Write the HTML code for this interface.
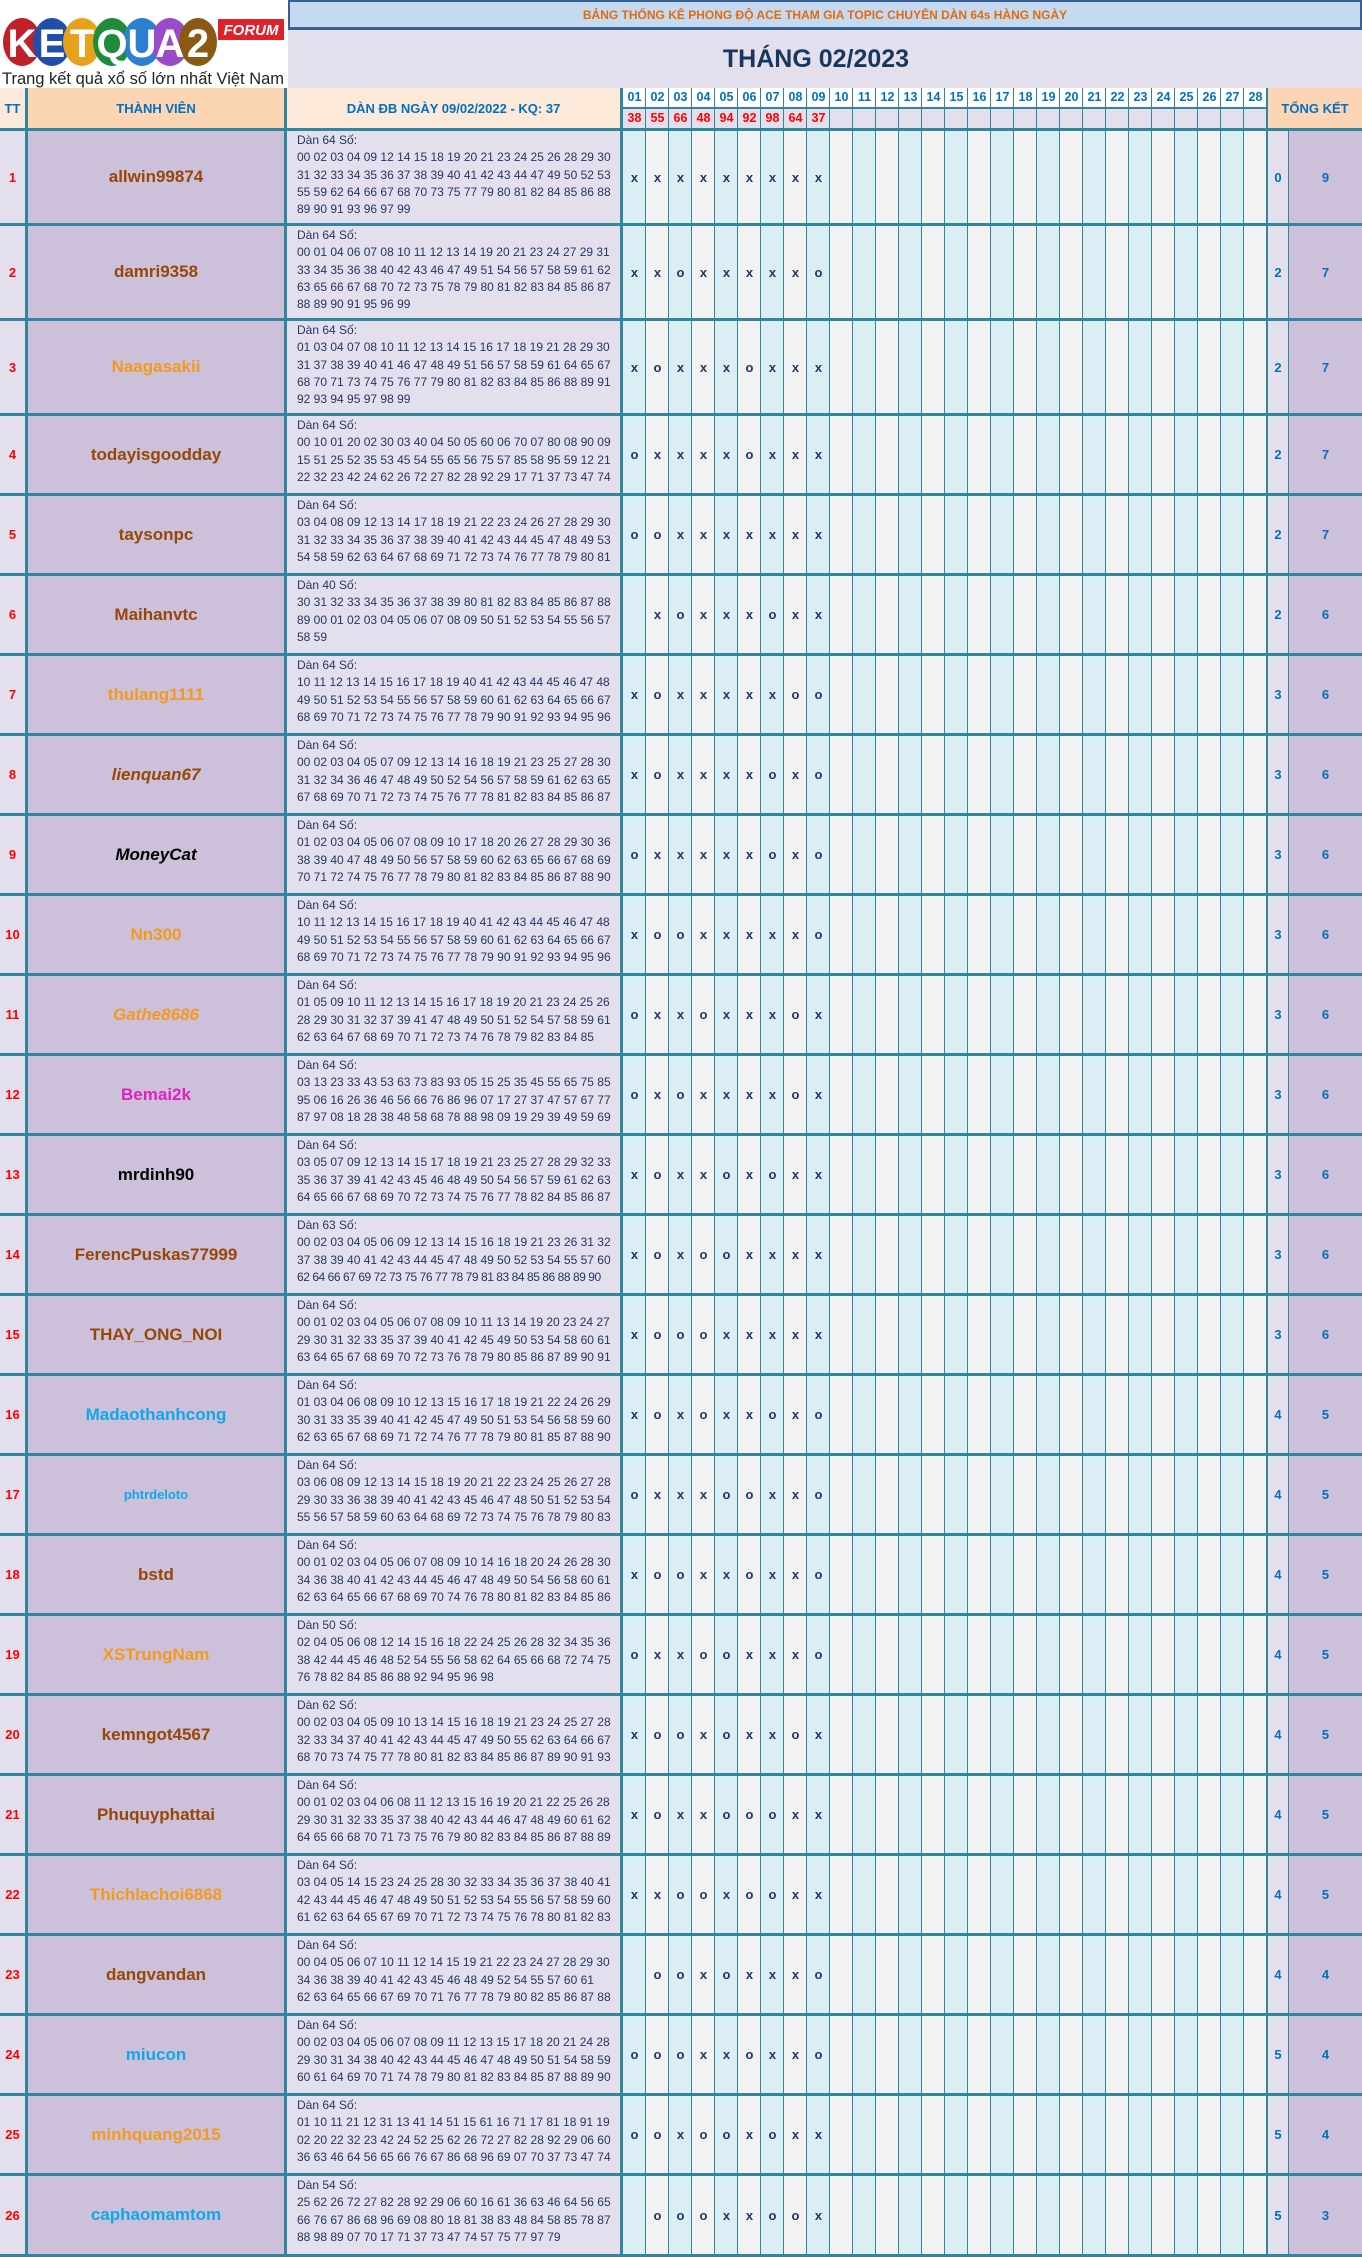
<!DOCTYPE html>
<html><head><meta charset="utf-8">
<style>
*{margin:0;padding:0;box-sizing:border-box}
body{width:1362px;height:2257px;background:#fff;font-family:"Liberation Sans","DejaVu Sans",sans-serif;position:relative;overflow:hidden}
.a{position:absolute}
#tbl{position:absolute;left:0;top:88px;width:1362px;height:2169px;background:#31859c}
.r{position:absolute;left:0;width:1362px}
.r>div{position:absolute;top:0;bottom:3px}
.tt{left:0;width:25px;background:#e4dfec;color:#f00;font-weight:bold;font-size:13px;display:flex;align-items:center;justify-content:center}
.nm{left:28px;width:256px;background:#ccc0da;font-weight:bold;font-size:17px;display:flex;align-items:center;justify-content:center;color:#974706}
.dn{left:287px;width:333px;background:#e4dfec;padding:1px 0 0 10px;font-size:12px;line-height:17.3px;color:#1f3864;white-space:pre;overflow:hidden}
.dy{left:623px;width:644px;background:repeating-linear-gradient(90deg,#daeef3 0 22px,#31859c 22px 23px,#f2f2f2 23px 45px,#31859c 45px 46px);display:flex;align-items:center}
.dy span{width:23px;text-align:center;font-weight:bold;font-size:13px;color:#1f3864}
.t1{left:1268px;width:20px;background:#e4dfec;color:#0070c0;font-weight:bold;font-size:13px;display:flex;align-items:center;justify-content:center}
.t2{left:1289px;width:73px;background:#ccc0da;color:#0070c0;font-weight:bold;font-size:13px;display:flex;align-items:center;justify-content:center}
.or{color:#f39a1e}.bl{color:#10a8e8}.it{font-style:italic}
.h{position:absolute;display:flex;align-items:center;justify-content:center;color:#0070c0;font-weight:bold;font-size:13px}
.dh{position:absolute;left:623px;width:644px;display:flex}
.dh span{width:23px;text-align:center;font-weight:bold;font-size:12.5px}
</style></head><body>
<svg class="a" style="left:0;top:0" width="288" height="88" viewBox="0 0 288 88">
<ellipse cx="22" cy="42" rx="19" ry="24" fill="#c0202a"/>
<ellipse cx="52" cy="42" rx="19" ry="24" fill="#1f4fa8"/>
<ellipse cx="82" cy="42" rx="19" ry="24" fill="#e6a21c"/>
<ellipse cx="112" cy="42" rx="19" ry="24" fill="#1e8c3a"/>
<ellipse cx="142" cy="42" rx="19" ry="24" fill="#2d7fd0"/>
<ellipse cx="170" cy="42" rx="19" ry="24" fill="#9b4bc9"/>
<ellipse cx="198" cy="42" rx="19" ry="24" fill="#8a5a14"/>
<g font-family="Liberation Sans" font-weight="bold" font-size="40" fill="#fff" text-anchor="middle">
<text x="22" y="57">K</text><text x="52" y="57">E</text><text x="82" y="57">T</text><text x="112" y="57">Q</text><text x="142" y="57">U</text><text x="170" y="57">A</text><text x="198" y="57">2</text></g>
<rect x="218" y="19" width="66" height="21" fill="#e0202a"/>
<text x="251" y="35" font-family="Liberation Sans" font-style="italic" font-weight="bold" font-size="15" fill="#fff" text-anchor="middle">FORUM</text>
<text x="2" y="84" font-family="Liberation Sans" font-size="17" fill="#222" textLength="282" lengthAdjust="spacingAndGlyphs">Trang kết quả xổ số lớn nhất Việt Nam</text>
</svg>
<div class="a" style="left:288px;top:0;width:1074px;height:30px;background:#c5d9f1;border:2px solid #366092;border-bottom:3px solid #366092;color:#e26b0a;font-weight:bold;font-size:12px;display:flex;align-items:center;justify-content:center">BẢNG THỐNG KÊ PHONG ĐỘ ACE THAM GIA TOPIC CHUYÊN DÀN 64s HÀNG NGÀY</div>
<div class="a" style="left:288px;top:30px;width:1074px;height:58px;background:#e4dfec;color:#17375e;font-weight:bold;font-size:25px;display:flex;align-items:center;justify-content:center;padding-right:18px">THÁNG 02/2023</div>
<div id="tbl">
<div class="h" style="left:0;top:0;width:25px;height:40px;background:#fde9d9">TT</div>
<div class="h" style="left:28px;top:0;width:256px;height:40px;background:#fcd5b4">THÀNH VIÊN</div>
<div class="h" style="left:287px;top:0;width:333px;height:40px;background:#fde9d9">DÀN ĐB NGÀY 09/02/2022 - KQ: 37</div>
<div class="dh" style="top:0;height:19px;background:repeating-linear-gradient(90deg,#fff 0 22px,#31859c 22px 23px);color:#0070c0;line-height:19px"><span>01</span><span>02</span><span>03</span><span>04</span><span>05</span><span>06</span><span>07</span><span>08</span><span>09</span><span>10</span><span>11</span><span>12</span><span>13</span><span>14</span><span>15</span><span>16</span><span>17</span><span>18</span><span>19</span><span>20</span><span>21</span><span>22</span><span>23</span><span>24</span><span>25</span><span>26</span><span>27</span><span>28</span></div>
<div class="dh" style="top:21px;height:19px;background:repeating-linear-gradient(90deg,#e4dfec 0 22px,#31859c 22px 23px);color:#f00;line-height:19px"><span>38</span><span>55</span><span>66</span><span>48</span><span>94</span><span>92</span><span>98</span><span>64</span><span>37</span></div>
<div class="h" style="left:1268px;top:0;width:94px;height:40px;background:#fcd5b4">TỔNG KẾT</div>

<div class="r" style="top:43px;height:95px"><div class="tt">1</div><div class="nm">allwin99874</div><div class="dn">Dàn 64 Số:
00 02 03 04 09 12 14 15 18 19 20 21 23 24 25 26 28 29 30
31 32 33 34 35 36 37 38 39 40 41 42 43 44 47 49 50 52 53
55 59 62 64 66 67 68 70 73 75 77 79 80 81 82 84 85 86 88
89 90 91 93 96 97 99</div><div class="dy"><span>x</span><span>x</span><span>x</span><span>x</span><span>x</span><span>x</span><span>x</span><span>x</span><span>x</span></div><div class="t1">0</div><div class="t2">9</div></div>

<div class="r" style="top:138px;height:95px"><div class="tt">2</div><div class="nm">damri9358</div><div class="dn">Dàn 64 Số:
00 01 04 06 07 08 10 11 12 13 14 19 20 21 23 24 27 29 31
33 34 35 36 38 40 42 43 46 47 49 51 54 56 57 58 59 61 62
63 65 66 67 68 70 72 73 75 78 79 80 81 82 83 84 85 86 87
88 89 90 91 95 96 99</div><div class="dy"><span>x</span><span>x</span><span>o</span><span>x</span><span>x</span><span>x</span><span>x</span><span>x</span><span>o</span></div><div class="t1">2</div><div class="t2">7</div></div>

<div class="r" style="top:233px;height:95px"><div class="tt">3</div><div class="nm or">Naagasakii</div><div class="dn">Dàn 64 Số:
01 03 04 07 08 10 11 12 13 14 15 16 17 18 19 21 28 29 30
31 37 38 39 40 41 46 47 48 49 51 56 57 58 59 61 64 65 67
68 70 71 73 74 75 76 77 79 80 81 82 83 84 85 86 88 89 91
92 93 94 95 97 98 99</div><div class="dy"><span>x</span><span>o</span><span>x</span><span>x</span><span>x</span><span>o</span><span>x</span><span>x</span><span>x</span></div><div class="t1">2</div><div class="t2">7</div></div>

<div class="r" style="top:328px;height:80px"><div class="tt">4</div><div class="nm">todayisgoodday</div><div class="dn">Dàn 64 Số:
00 10 01 20 02 30 03 40 04 50 05 60 06 70 07 80 08 90 09
15 51 25 52 35 53 45 54 55 65 56 75 57 85 58 95 59 12 21
22 32 23 42 24 62 26 72 27 82 28 92 29 17 71 37 73 47 74</div><div class="dy"><span>o</span><span>x</span><span>x</span><span>x</span><span>x</span><span>o</span><span>x</span><span>x</span><span>x</span></div><div class="t1">2</div><div class="t2">7</div></div>

<div class="r" style="top:408px;height:80px"><div class="tt">5</div><div class="nm">taysonpc</div><div class="dn">Dàn 64 Số:
03 04 08 09 12 13 14 17 18 19 21 22 23 24 26 27 28 29 30
31 32 33 34 35 36 37 38 39 40 41 42 43 44 45 47 48 49 53
54 58 59 62 63 64 67 68 69 71 72 73 74 76 77 78 79 80 81</div><div class="dy"><span>o</span><span>o</span><span>x</span><span>x</span><span>x</span><span>x</span><span>x</span><span>x</span><span>x</span></div><div class="t1">2</div><div class="t2">7</div></div>

<div class="r" style="top:488px;height:80px"><div class="tt">6</div><div class="nm">Maihanvtc</div><div class="dn">Dàn 40 Số:
30 31 32 33 34 35 36 37 38 39 80 81 82 83 84 85 86 87 88
89 00 01 02 03 04 05 06 07 08 09 50 51 52 53 54 55 56 57
58 59</div><div class="dy"><span></span><span>x</span><span>o</span><span>x</span><span>x</span><span>x</span><span>o</span><span>x</span><span>x</span></div><div class="t1">2</div><div class="t2">6</div></div>

<div class="r" style="top:568px;height:80px"><div class="tt">7</div><div class="nm or">thulang1111</div><div class="dn">Dàn 64 Số:
10 11 12 13 14 15 16 17 18 19 40 41 42 43 44 45 46 47 48
49 50 51 52 53 54 55 56 57 58 59 60 61 62 63 64 65 66 67
68 69 70 71 72 73 74 75 76 77 78 79 90 91 92 93 94 95 96</div><div class="dy"><span>x</span><span>o</span><span>x</span><span>x</span><span>x</span><span>x</span><span>x</span><span>o</span><span>o</span></div><div class="t1">3</div><div class="t2">6</div></div>

<div class="r" style="top:648px;height:80px"><div class="tt">8</div><div class="nm it">lienquan67</div><div class="dn">Dàn 64 Số:
00 02 03 04 05 07 09 12 13 14 16 18 19 21 23 25 27 28 30
31 32 34 36 46 47 48 49 50 52 54 56 57 58 59 61 62 63 65
67 68 69 70 71 72 73 74 75 76 77 78 81 82 83 84 85 86 87</div><div class="dy"><span>x</span><span>o</span><span>x</span><span>x</span><span>x</span><span>x</span><span>o</span><span>x</span><span>o</span></div><div class="t1">3</div><div class="t2">6</div></div>

<div class="r" style="top:728px;height:80px"><div class="tt">9</div><div class="nm it" style="color:#000">MoneyCat</div><div class="dn">Dàn 64 Số:
01 02 03 04 05 06 07 08 09 10 17 18 20 26 27 28 29 30 36
38 39 40 47 48 49 50 56 57 58 59 60 62 63 65 66 67 68 69
70 71 72 74 75 76 77 78 79 80 81 82 83 84 85 86 87 88 90</div><div class="dy"><span>o</span><span>x</span><span>x</span><span>x</span><span>x</span><span>x</span><span>o</span><span>x</span><span>o</span></div><div class="t1">3</div><div class="t2">6</div></div>

<div class="r" style="top:808px;height:80px"><div class="tt">10</div><div class="nm or">Nn300</div><div class="dn">Dàn 64 Số:
10 11 12 13 14 15 16 17 18 19 40 41 42 43 44 45 46 47 48
49 50 51 52 53 54 55 56 57 58 59 60 61 62 63 64 65 66 67
68 69 70 71 72 73 74 75 76 77 78 79 90 91 92 93 94 95 96</div><div class="dy"><span>x</span><span>o</span><span>o</span><span>x</span><span>x</span><span>x</span><span>x</span><span>x</span><span>o</span></div><div class="t1">3</div><div class="t2">6</div></div>

<div class="r" style="top:888px;height:80px"><div class="tt">11</div><div class="nm or it">Gathe8686</div><div class="dn">Dàn 64 Số:
01 05 09 10 11 12 13 14 15 16 17 18 19 20 21 23 24 25 26
28 29 30 31 32 37 39 41 47 48 49 50 51 52 54 57 58 59 61
62 63 64 67 68 69 70 71 72 73 74 76 78 79 82 83 84 85</div><div class="dy"><span>o</span><span>x</span><span>x</span><span>o</span><span>x</span><span>x</span><span>x</span><span>o</span><span>x</span></div><div class="t1">3</div><div class="t2">6</div></div>

<div class="r" style="top:968px;height:80px"><div class="tt">12</div><div class="nm" style="color:#e020c0">Bemai2k</div><div class="dn">Dàn 64 Số:
03 13 23 33 43 53 63 73 83 93 05 15 25 35 45 55 65 75 85
95 06 16 26 36 46 56 66 76 86 96 07 17 27 37 47 57 67 77
87 97 08 18 28 38 48 58 68 78 88 98 09 19 29 39 49 59 69</div><div class="dy"><span>o</span><span>x</span><span>o</span><span>x</span><span>x</span><span>x</span><span>x</span><span>o</span><span>x</span></div><div class="t1">3</div><div class="t2">6</div></div>

<div class="r" style="top:1048px;height:80px"><div class="tt">13</div><div class="nm" style="color:#000">mrdinh90</div><div class="dn">Dàn 64 Số:
03 05 07 09 12 13 14 15 17 18 19 21 23 25 27 28 29 32 33
35 36 37 39 41 42 43 45 46 48 49 50 54 56 57 59 61 62 63
64 65 66 67 68 69 70 72 73 74 75 76 77 78 82 84 85 86 87</div><div class="dy"><span>x</span><span>o</span><span>x</span><span>x</span><span>o</span><span>x</span><span>o</span><span>x</span><span>x</span></div><div class="t1">3</div><div class="t2">6</div></div>

<div class="r" style="top:1128px;height:80px"><div class="tt">14</div><div class="nm">FerencPuskas77999</div><div class="dn">Dàn 63 Số:
00 02 03 04 05 06 09 12 13 14 15 16 18 19 21 23 26 31 32
37 38 39 40 41 42 43 44 45 47 48 49 50 52 53 54 55 57 60
<span style="letter-spacing:-0.45px">62 64 66 67 69 72 73 75 76 77 78 79 81 83 84 85 86 88 89 90</span></div><div class="dy"><span>x</span><span>o</span><span>x</span><span>o</span><span>o</span><span>x</span><span>x</span><span>x</span><span>x</span></div><div class="t1">3</div><div class="t2">6</div></div>

<div class="r" style="top:1208px;height:80px"><div class="tt">15</div><div class="nm">THAY_ONG_NOI</div><div class="dn">Dàn 64 Số:
00 01 02 03 04 05 06 07 08 09 10 11 13 14 19 20 23 24 27
29 30 31 32 33 35 37 39 40 41 42 45 49 50 53 54 58 60 61
63 64 65 67 68 69 70 72 73 76 78 79 80 85 86 87 89 90 91</div><div class="dy"><span>x</span><span>o</span><span>o</span><span>o</span><span>x</span><span>x</span><span>x</span><span>x</span><span>x</span></div><div class="t1">3</div><div class="t2">6</div></div>

<div class="r" style="top:1288px;height:80px"><div class="tt">16</div><div class="nm bl">Madaothanhcong</div><div class="dn">Dàn 64 Số:
01 03 04 06 08 09 10 12 13 15 16 17 18 19 21 22 24 26 29
30 31 33 35 39 40 41 42 45 47 49 50 51 53 54 56 58 59 60
62 63 65 67 68 69 71 72 74 76 77 78 79 80 81 85 87 88 90</div><div class="dy"><span>x</span><span>o</span><span>x</span><span>o</span><span>x</span><span>x</span><span>o</span><span>x</span><span>o</span></div><div class="t1">4</div><div class="t2">5</div></div>

<div class="r" style="top:1368px;height:80px"><div class="tt">17</div><div class="nm bl" style="font-size:13px">phtrdeloto</div><div class="dn">Dàn 64 Số:
03 06 08 09 12 13 14 15 18 19 20 21 22 23 24 25 26 27 28
29 30 33 36 38 39 40 41 42 43 45 46 47 48 50 51 52 53 54
55 56 57 58 59 60 63 64 68 69 72 73 74 75 76 78 79 80 83</div><div class="dy"><span>o</span><span>x</span><span>x</span><span>x</span><span>o</span><span>o</span><span>x</span><span>x</span><span>o</span></div><div class="t1">4</div><div class="t2">5</div></div>

<div class="r" style="top:1448px;height:80px"><div class="tt">18</div><div class="nm">bstd</div><div class="dn">Dàn 64 Số:
00 01 02 03 04 05 06 07 08 09 10 14 16 18 20 24 26 28 30
34 36 38 40 41 42 43 44 45 46 47 48 49 50 54 56 58 60 61
62 63 64 65 66 67 68 69 70 74 76 78 80 81 82 83 84 85 86</div><div class="dy"><span>x</span><span>o</span><span>o</span><span>x</span><span>x</span><span>o</span><span>x</span><span>x</span><span>o</span></div><div class="t1">4</div><div class="t2">5</div></div>

<div class="r" style="top:1528px;height:80px"><div class="tt">19</div><div class="nm or">XSTrungNam</div><div class="dn">Dàn 50 Số:
02 04 05 06 08 12 14 15 16 18 22 24 25 26 28 32 34 35 36
38 42 44 45 46 48 52 54 55 56 58 62 64 65 66 68 72 74 75
76 78 82 84 85 86 88 92 94 95 96 98</div><div class="dy"><span>o</span><span>x</span><span>x</span><span>o</span><span>o</span><span>x</span><span>x</span><span>x</span><span>o</span></div><div class="t1">4</div><div class="t2">5</div></div>

<div class="r" style="top:1608px;height:80px"><div class="tt">20</div><div class="nm">kemngot4567</div><div class="dn">Dàn 62 Số:
00 02 03 04 05 09 10 13 14 15 16 18 19 21 23 24 25 27 28
32 33 34 37 40 41 42 43 44 45 47 49 50 55 62 63 64 66 67
68 70 73 74 75 77 78 80 81 82 83 84 85 86 87 89 90 91 93</div><div class="dy"><span>x</span><span>o</span><span>o</span><span>x</span><span>o</span><span>x</span><span>x</span><span>o</span><span>x</span></div><div class="t1">4</div><div class="t2">5</div></div>

<div class="r" style="top:1688px;height:80px"><div class="tt">21</div><div class="nm">Phuquyphattai</div><div class="dn">Dàn 64 Số:
00 01 02 03 04 06 08 11 12 13 15 16 19 20 21 22 25 26 28
29 30 31 32 33 35 37 38 40 42 43 44 46 47 48 49 60 61 62
64 65 66 68 70 71 73 75 76 79 80 82 83 84 85 86 87 88 89</div><div class="dy"><span>x</span><span>o</span><span>x</span><span>x</span><span>o</span><span>o</span><span>o</span><span>x</span><span>x</span></div><div class="t1">4</div><div class="t2">5</div></div>

<div class="r" style="top:1768px;height:80px"><div class="tt">22</div><div class="nm or">Thichlachoi6868</div><div class="dn">Dàn 64 Số:
03 04 05 14 15 23 24 25 28 30 32 33 34 35 36 37 38 40 41
42 43 44 45 46 47 48 49 50 51 52 53 54 55 56 57 58 59 60
61 62 63 64 65 67 69 70 71 72 73 74 75 76 78 80 81 82 83</div><div class="dy"><span>x</span><span>x</span><span>o</span><span>o</span><span>x</span><span>o</span><span>o</span><span>x</span><span>x</span></div><div class="t1">4</div><div class="t2">5</div></div>

<div class="r" style="top:1848px;height:80px"><div class="tt">23</div><div class="nm">dangvandan</div><div class="dn">Dàn 64 Số:
00 04 05 06 07 10 11 12 14 15 19 21 22 23 24 27 28 29 30
34 36 38 39 40 41 42 43 45 46 48 49 52 54 55 57 60 61
62 63 64 65 66 67 69 70 71 76 77 78 79 80 82 85 86 87 88</div><div class="dy"><span></span><span>o</span><span>o</span><span>x</span><span>o</span><span>x</span><span>x</span><span>x</span><span>o</span></div><div class="t1">4</div><div class="t2">4</div></div>

<div class="r" style="top:1928px;height:80px"><div class="tt">24</div><div class="nm bl">miucon</div><div class="dn">Dàn 64 Số:
00 02 03 04 05 06 07 08 09 11 12 13 15 17 18 20 21 24 28
29 30 31 34 38 40 42 43 44 45 46 47 48 49 50 51 54 58 59
60 61 64 69 70 71 74 78 79 80 81 82 83 84 85 87 88 89 90</div><div class="dy"><span>o</span><span>o</span><span>o</span><span>x</span><span>x</span><span>o</span><span>x</span><span>x</span><span>o</span></div><div class="t1">5</div><div class="t2">4</div></div>

<div class="r" style="top:2008px;height:80px"><div class="tt">25</div><div class="nm or">minhquang2015</div><div class="dn">Dàn 64 Số:
01 10 11 21 12 31 13 41 14 51 15 61 16 71 17 81 18 91 19
02 20 22 32 23 42 24 52 25 62 26 72 27 82 28 92 29 06 60
36 63 46 64 56 65 66 76 67 86 68 96 69 07 70 37 73 47 74</div><div class="dy"><span>o</span><span>o</span><span>x</span><span>o</span><span>o</span><span>x</span><span>o</span><span>x</span><span>x</span></div><div class="t1">5</div><div class="t2">4</div></div>

<div class="r" style="top:2088px;height:81px"><div class="tt">26</div><div class="nm bl">caphaomamtom</div><div class="dn">Dàn 54 Số:
25 62 26 72 27 82 28 92 29 06 60 16 61 36 63 46 64 56 65
66 76 67 86 68 96 69 08 80 18 81 38 83 48 84 58 85 78 87
88 98 89 07 70 17 71 37 73 47 74 57 75 77 97 79</div><div class="dy"><span></span><span>o</span><span>o</span><span>o</span><span>x</span><span>x</span><span>o</span><span>o</span><span>x</span></div><div class="t1">5</div><div class="t2">3</div></div>
</div>
</body></html>
